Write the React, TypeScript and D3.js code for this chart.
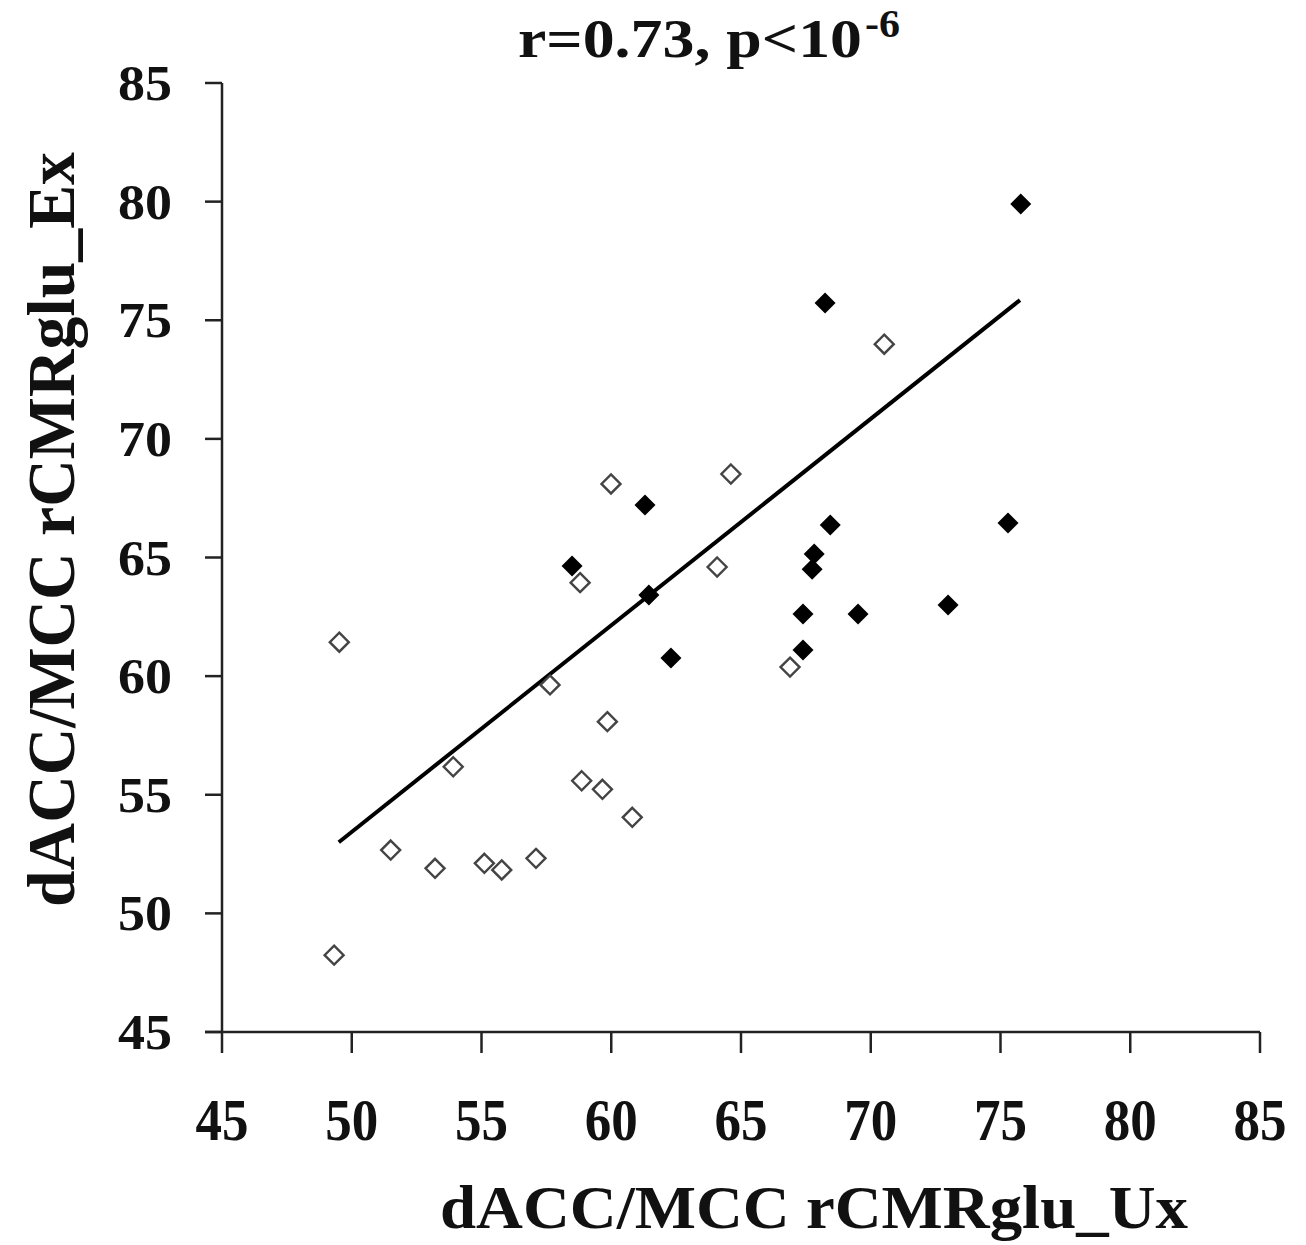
import React from "react";
import * as d3 from "d3";

const openX = [49.52, 49.32, 51.5, 53.21, 53.91, 55.11, 55.78, 57.1, 57.64, 58.8, 58.86, 59.66, 59.85, 59.99, 60.81, 64.08, 64.61, 66.89, 70.52];
const openY = [61.43, 48.24, 52.67, 51.9, 56.18, 52.11, 51.83, 52.32, 59.63, 63.94, 55.59, 55.23, 58.08, 68.1, 54.05, 64.6, 68.52, 60.38, 73.99];
const filledX = [58.49, 61.3, 61.45, 62.3, 67.39, 67.39, 67.82, 67.74, 68.24, 68.44, 69.51, 72.98, 75.29, 75.78];
const filledY = [64.64, 67.21, 63.42, 60.76, 62.62, 61.1, 65.15, 64.51, 75.73, 66.37, 62.62, 63.0, 66.45, 79.9];
const fitX = [49.5, 75.75];
const fitY = [53.0, 75.85];
const xTicks = [45, 50, 55, 60, 65, 70, 75, 80, 85];
const yTicks = [45, 50, 55, 60, 65, 70, 75, 80, 85];

const FONT = "'Liberation Serif', 'Times New Roman', serif";

export default function App() {
  const x = d3.scaleLinear().domain([45, 85]).range([222, 1260]);
  const y = d3.scaleLinear().domain([45, 85]).range([1032, 83]);
  const diamond = (cx: number, cy: number, r: number) =>
    `M${cx},${cy - r}L${cx + r},${cy}L${cx},${cy + r}L${cx - r},${cy}Z`;
  const line = d3
    .line<number>()
    .x((d, i) => x(fitX[i]))
    .y((d, i) => y(fitY[i]));

  return (
    <svg
      width={1306}
      height={1245}
      style={{ position: "absolute", left: 0, top: 0, background: "#fff" }}
      fontFamily={FONT}
      fontWeight="bold"
    >
      <rect width={1306} height={1245} fill="#fff" />
      {/* axes */}
      <line x1={x(45)} y1={y(85)} x2={x(45)} y2={y(45)} stroke="#222" strokeWidth={2.5} />
      <line x1={x(45) - 17} y1={y(45)} x2={x(85)} y2={y(45)} stroke="#222" strokeWidth={2.5} />
      {yTicks.map((t) => (
        <g key={"y" + t}>
          <line x1={x(45) - 17} x2={x(45)} y1={y(t)} y2={y(t)} stroke="#222" strokeWidth={2.5} />
          <text x={118} y={y(t) + 17} fontSize={50} textLength={54} lengthAdjust="spacingAndGlyphs" fill="#111">
            {t}
          </text>
        </g>
      ))}
      {xTicks.map((t) => (
        <g key={"x" + t}>
          <line x1={x(t)} x2={x(t)} y1={y(45)} y2={y(45) + 21} stroke="#222" strokeWidth={2.5} />
          <text x={x(t) - 26.5} y={1140} fontSize={59} textLength={53} lengthAdjust="spacingAndGlyphs" fill="#111">
            {t}
          </text>
        </g>
      ))}
      {/* regression line */}
      <path d={line(fitX) || ""} fill="none" stroke="#000" strokeWidth={4} />
      {/* open diamonds */}
      {openX.map((v, i) => (
        <path key={"o" + i} d={diamond(x(v), y(openY[i]), 9.5)} fill="#fff" fillOpacity={0} stroke="#444" strokeWidth={2.4} />
      ))}
      {/* filled diamonds */}
      {filledX.map((v, i) => (
        <path key={"f" + i} d={diamond(x(v), y(filledY[i]), 10.5)} fill="#000" />
      ))}
      {/* title */}
      <text x={518} y={57} fontSize={54} textLength={344} lengthAdjust="spacingAndGlyphs" fill="#111">
        r=0.73, p&lt;10
      </text>
      <text x={865} y={37} fontSize={40} textLength={35} lengthAdjust="spacingAndGlyphs" fill="#111">
        -6
      </text>
      {/* axis titles */}
      <text x={440} y={1228} fontSize={61} textLength={748} lengthAdjust="spacingAndGlyphs" fill="#111">
        dACC/MCC rCMRglu_Ux
      </text>
      <text
        transform={`translate(74,${907}) rotate(-90)`}
        x={0}
        y={0}
        fontSize={68}
        textLength={755}
        lengthAdjust="spacingAndGlyphs"
        fill="#111"
      >
        dACC/MCC rCMRglu_Ex
      </text>
    </svg>
  );
}
